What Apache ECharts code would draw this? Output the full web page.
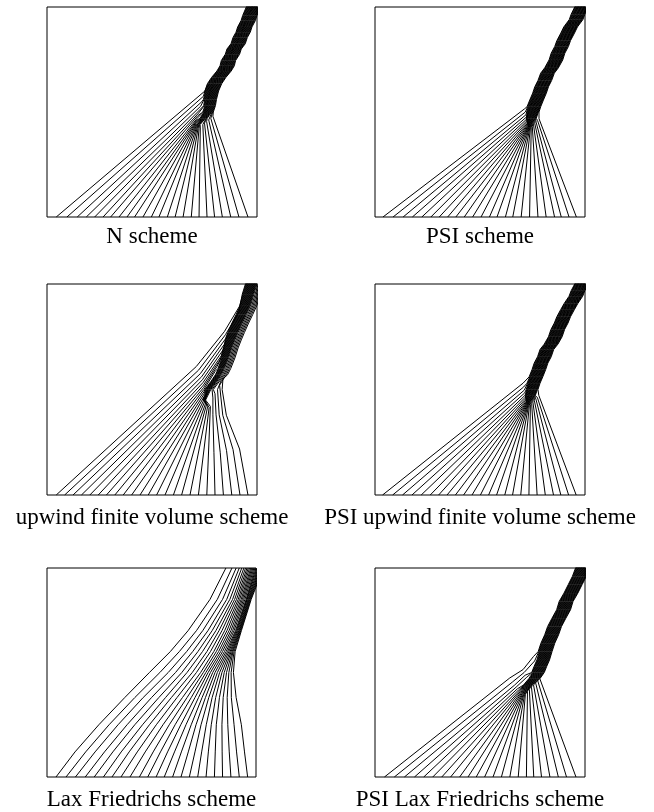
<!DOCTYPE html>
<html>
<head>
<meta charset="utf-8">
<script src="https://cdn.jsdelivr.net/npm/echarts@6/dist/echarts.min.js"></script>
<style>
  html, body { margin: 0; background: #fff; }
  #chart { width: 654px; height: 812px; }
</style>
</head>
<body>
<div id="chart"></div>
<script>
// Each panel is the unit square, y = 0 at the bottom edge.
// start: where a contour leaves the bottom edge; bend: points up to where it meets
// the shock; shift: its horizontal place inside the shock band; shock: band centre.

// N scheme
const nStart = [0.044,0.095,0.144,0.187,0.227,0.267,0.303,0.343,0.381,0.417,0.457,0.497,0.533,0.573,0.610,0.648,0.687,0.724,0.762,0.798,0.835,0.875,0.914,0.957];
const nBend = [[[0.752,0.600]],[[0.745,0.575]],[[0.738,0.550]],[[0.732,0.528]],[[0.727,0.510]],[[0.722,0.495]],[[0.718,0.482]],[[0.715,0.470]],[[0.712,0.460]],[[0.710,0.452]],[[0.709,0.445]],[[0.709,0.438]],[[0.710,0.432]],[[0.712,0.427]],[[0.715,0.423]],[[0.719,0.421]],[[0.724,0.421]],[[0.730,0.424]],[[0.742,0.440]],[[0.750,0.447]],[[0.760,0.455]],[[0.770,0.462]],[[0.780,0.470]],[[0.790,0.480]]];
const nShift = [-0.036,-0.033,-0.030,-0.027,-0.024,-0.021,-0.018,-0.015,-0.012,-0.009,-0.007,-0.004,-0.001,0.002,0.005,0.008,0.011,0.014,0.017,0.020,0.023,0.026,0.029,0.032];
const nShock = [[0.715,0.44],[0.74,0.47],[0.76,0.50],[0.77,0.53],[0.775,0.56],[0.785,0.60],[0.80,0.635],[0.82,0.665],[0.845,0.695],[0.86,0.72],[0.866,0.745],[0.885,0.775],[0.893,0.80],[0.912,0.825],[0.922,0.855],[0.936,0.88],[0.944,0.905],[0.96,0.935],[0.968,0.96],[0.985,1.0],[1.0,1.04]];

// PSI scheme
const pStart = [0.038,0.086,0.134,0.178,0.223,0.266,0.306,0.346,0.385,0.425,0.465,0.505,0.545,0.581,0.621,0.656,0.696,0.736,0.776,0.815,0.855,0.887,0.924,0.959];
const pBend = [[[0.712,0.515]],[[0.716,0.500]],[[0.719,0.487]],[[0.721,0.476]],[[0.722,0.466]],[[0.723,0.458]],[[0.724,0.451]],[[0.725,0.445]],[[0.726,0.440]],[[0.727,0.436]],[[0.728,0.432]],[[0.729,0.429]],[[0.730,0.427]],[[0.732,0.425]],[[0.734,0.424]],[[0.737,0.424]],[[0.740,0.425]],[[0.744,0.428]],[[0.749,0.432]],[[0.755,0.438]],[[0.761,0.445]],[[0.767,0.452]],[[0.774,0.460]],[[0.781,0.468]]];
const pShift = [-0.034,-0.031,-0.028,-0.025,-0.022,-0.019,-0.017,-0.014,-0.011,-0.008,-0.005,-0.003,0.000,0.003,0.006,0.009,0.011,0.014,0.017,0.020,0.023,0.025,0.028,0.031];
const pShock = [[0.728,0.433],[0.74,0.47],[0.75,0.5],[0.758,0.525],[0.771,0.557],[0.785,0.59],[0.795,0.62],[0.81,0.65],[0.823,0.685],[0.842,0.71],[0.863,0.748],[0.873,0.78],[0.89,0.812],[0.9,0.84],[0.919,0.876],[0.933,0.905],[0.959,0.94],[0.968,0.965],[0.985,1.0],[1.0,1.04]];

// upwind finite volume scheme
const uStart = [0.044,0.084,0.124,0.164,0.204,0.244,0.283,0.323,0.363,0.403,0.443,0.482,0.522,0.562,0.602,0.641,0.681,0.721,0.761,0.800,0.840,0.880,0.919,0.957];
const uBend = [
  [[0.711,0.609],[0.845,0.775],[0.92,0.9]],
  [[0.722,0.592],[0.85,0.76],[0.915,0.87]],
  [[0.73,0.575],[0.85,0.74]],
  [[0.736,0.56],[0.845,0.715]],
  [[0.74,0.546],[0.84,0.69]],
  [[0.743,0.533],[0.83,0.66]],
  [[0.745,0.521],[0.82,0.635]],
  [[0.746,0.51],[0.81,0.61]],
  [[0.747,0.5],[0.80,0.585]],
  [[0.748,0.49]],[[0.749,0.48]],[[0.75,0.47]],[[0.752,0.46]],[[0.754,0.45]],[[0.757,0.44]],[[0.76,0.43]],
  [[0.765,0.42]],[[0.772,0.415]],[[0.778,0.42]],
  [[0.795,0.2],[0.79,0.38],[0.79,0.46]],
  [[0.825,0.2],[0.805,0.38],[0.8,0.48]],
  [[0.855,0.21],[0.82,0.38],[0.812,0.5]],
  [[0.886,0.215],[0.837,0.378],[0.822,0.52]],
  [[0.917,0.218],[0.854,0.378],[0.834,0.5],[0.838,0.55]]
];
const uShift = [-0.045,-0.042,-0.039,-0.036,-0.033,-0.03,-0.027,-0.024,-0.021,-0.018,-0.015,-0.012,-0.009,-0.006,-0.003,0,0.003,0.006,0.01,0.016,0.022,0.028,0.034,0.04];
const uShock = [[0.745,0.45],[0.77,0.5],[0.8,0.54],[0.82,0.57],[0.835,0.6],[0.855,0.65],[0.87,0.697],[0.885,0.735],[0.9,0.77],[0.92,0.815],[0.94,0.856],[0.96,0.9],[0.975,0.952],[0.99,1.0],[1.01,1.04]];

// PSI upwind finite volume scheme
const rStart = [0.036,0.084,0.131,0.176,0.22,0.263,0.303,0.343,0.383,0.422,0.462,0.502,0.541,0.579,0.618,0.655,0.694,0.733,0.772,0.811,0.85,0.885,0.922,0.958];
const rBend = [[[0.705,0.53]],[[0.708,0.512]],[[0.711,0.497]],[[0.713,0.484]],[[0.715,0.473]],[[0.716,0.464]],[[0.717,0.456]],[[0.718,0.449]],[[0.719,0.443]],[[0.72,0.438]],[[0.721,0.434]],[[0.722,0.43]],[[0.724,0.427]],[[0.726,0.425]],[[0.728,0.424]],[[0.731,0.424]],[[0.735,0.426]],[[0.74,0.429]],[[0.746,0.434]],[[0.752,0.44]],[[0.759,0.447]],[[0.766,0.455]],[[0.773,0.463]],[[0.78,0.472]]];
const rShift = [-0.034,-0.031,-0.028,-0.025,-0.022,-0.019,-0.017,-0.014,-0.011,-0.008,-0.005,-0.003,0.000,0.003,0.006,0.009,0.011,0.014,0.017,0.020,0.023,0.025,0.028,0.031];
const rShock = [[0.72,0.43],[0.735,0.47],[0.745,0.5],[0.755,0.53],[0.768,0.56],[0.782,0.595],[0.792,0.625],[0.808,0.655],[0.82,0.69],[0.84,0.715],[0.86,0.75],[0.872,0.785],[0.888,0.815],[0.9,0.845],[0.918,0.878],[0.935,0.908],[0.958,0.942],[0.968,0.968],[0.985,1.0],[1.0,1.04]];

// Lax Friedrichs scheme: x of each contour read at the heights in fY
const fY = [0, 0.12, 0.25, 0.38, 0.5, 0.6, 0.7, 0.85, 1.0];
const fStart = [0.043,0.091,0.136,0.183,0.226,0.27,0.311,0.354,0.397,0.442,0.482,0.522,0.561,0.601,0.641,0.681,0.721,0.761,0.801,0.84,0.88,0.92,0.96];
const f12 = [0.134,0.185,0.23,0.275,0.315,0.355,0.393,0.432,0.47,0.508,0.543,0.577,0.61,0.643,0.676,0.708,0.74,0.772,0.805,0.838,0.872,0.907,0.945];
const f25 = [0.248,0.297,0.34,0.383,0.42,0.457,0.49,0.523,0.555,0.585,0.613,0.64,0.665,0.69,0.713,0.737,0.762,0.786,0.81,0.837,0.865,0.895,0.93];
const f38 = [0.372,0.42,0.46,0.5,0.535,0.567,0.595,0.622,0.648,0.67,0.69,0.708,0.725,0.742,0.758,0.774,0.79,0.807,0.825,0.843,0.862,0.882,0.905];
const f50 = [0.49,0.54,0.58,0.615,0.645,0.67,0.695,0.715,0.735,0.748,0.76,0.771,0.782,0.793,0.804,0.815,0.826,0.837,0.848,0.859,0.87,0.881,0.892];
const f60 = [0.59,0.633,0.668,0.697,0.722,0.744,0.765,0.782,0.798,0.81,0.821,0.831,0.84,0.849,0.857,0.864,0.87,0.876,0.881,0.886,0.89,0.895,0.9];
const f70 = [0.675,0.715,0.745,0.77,0.79,0.808,0.823,0.837,0.85,0.861,0.871,0.88,0.888,0.895,0.902,0.906,0.91,0.914,0.918,0.921,0.924,0.927,0.93];
const f85 = [0.78,0.815,0.84,0.86,0.875,0.888,0.898,0.907,0.915,0.922,0.929,0.935,0.941,0.947,0.953,0.956,0.958,0.962,0.965,0.968,0.971,0.974,0.977];
const fTop = [0.856,0.885,0.905,0.92,0.932,0.942,0.95,0.957,0.963,0.969,0.975,0.98,0.985,0.99,0.995,1.0,1.005,1.01,1.015,1.02,1.025,1.03,1.035];

// PSI Lax Friedrichs scheme
const qStart = [0.045,0.092,0.14,0.188,0.232,0.275,0.318,0.36,0.403,0.443,0.482,0.522,0.562,0.602,0.642,0.682,0.721,0.756,0.793,0.833,0.873,0.912,0.957];
const qBend = [
  [[0.642,0.474],[0.705,0.514],[0.755,0.577]],
  [[0.655,0.455],[0.71,0.5],[0.76,0.555]],
  [[0.665,0.44],[0.715,0.487]],
  [[0.672,0.43],[0.72,0.475]],
  [[0.678,0.422]],[[0.683,0.416]],[[0.687,0.411]],[[0.69,0.407]],[[0.693,0.403]],[[0.696,0.4]],[[0.699,0.397]],[[0.702,0.395]],[[0.705,0.393]],[[0.708,0.392]],[[0.712,0.392]],[[0.716,0.395]],
  [[0.726,0.41]],[[0.735,0.42]],[[0.745,0.43]],[[0.755,0.44]],[[0.765,0.45]],[[0.775,0.46]],[[0.785,0.47]]
];
const qShift = [-0.035,-0.032,-0.029,-0.026,-0.023,-0.02,-0.017,-0.014,-0.011,-0.008,-0.005,-0.002,0.001,0.004,0.007,0.01,0.013,0.016,0.019,0.022,0.025,0.028,0.031];
const qShock = [[0.70,0.40],[0.73,0.44],[0.755,0.47],[0.775,0.5],[0.787,0.53],[0.8,0.56],[0.812,0.6],[0.825,0.64],[0.843,0.68],[0.857,0.72],[0.878,0.76],[0.9,0.8],[0.912,0.84],[0.935,0.88],[0.955,0.92],[0.975,0.96],[0.99,1.0],[1.01,1.04]];

const captions = ["N scheme", "PSI scheme", "upwind finite volume scheme", "PSI upwind finite volume scheme", "Lax Friedrichs scheme", "PSI Lax Friedrichs scheme"];

// contour = bottom point, bends, then the shock band from there up
function fanLines(start, bend, shift, shock) {
  return start.map((x0, i) => {
    const pts = [[x0, 0]].concat(bend[i]);
    const yEnd = pts[pts.length - 1][1];
    shock.forEach(p => {
      if (p[1] > yEnd + 0.005) pts.push([p[0] + shift[i], p[1]]);
    });
    return pts;
  });
}

function levelLines(levels, cols) {
  return cols[0].map((_, i) => levels.map((y, j) => [cols[j][i], y]));
}

const panelLines = [
  fanLines(nStart, nBend, nShift, nShock),
  fanLines(pStart, pBend, pShift, pShock),
  fanLines(uStart, uBend, uShift, uShock),
  fanLines(rStart, rBend, rShift, rShock),
  levelLines(fY, [fStart, f12, f25, f38, f50, f60, f70, f85, fTop]),
  fanLines(qStart, qBend, qShift, qShock)
];

const boxes = [
  { left: 47, top: 7, width: 210, height: 210, cap: 237 },
  { left: 375, top: 7, width: 210, height: 210, cap: 237 },
  { left: 47, top: 284, width: 210, height: 211, cap: 518 },
  { left: 375, top: 284, width: 210, height: 211, cap: 518 },
  { left: 47, top: 568, width: 209, height: 209, cap: 800 },
  { left: 375, top: 568, width: 210, height: 209, cap: 800 }
];

const chart = echarts.init(document.getElementById("chart"));

const grid = boxes.map(b => ({
  left: b.left, top: b.top, width: b.width, height: b.height,
  show: true, borderColor: "#000", borderWidth: 1
}));
const axis = boxes.map((b, i) => ({ gridIndex: i, type: "value", min: 0, max: 1, show: false }));

const series = [];
panelLines.forEach((lines, i) => {
  lines.forEach(pts => {
    series.push({
      type: "line", xAxisIndex: i, yAxisIndex: i, data: pts,
      symbol: "none", clip: true, silent: true,
      lineStyle: { color: "#000", width: 1 }
    });
  });
});

const graphic = boxes.map((b, i) => ({
  type: "text",
  x: b.left + b.width / 2, y: b.cap,
  style: {
    text: captions[i], fill: "#000",
    font: '23px "Liberation Serif"',
    textAlign: "center", textVerticalAlign: "middle"
  }
}));

chart.setOption({
  animation: false,
  grid: grid,
  xAxis: axis,
  yAxis: axis.map(a => Object.assign({}, a)),
  series: series,
  graphic: graphic
});
</script>
</body>
</html>
